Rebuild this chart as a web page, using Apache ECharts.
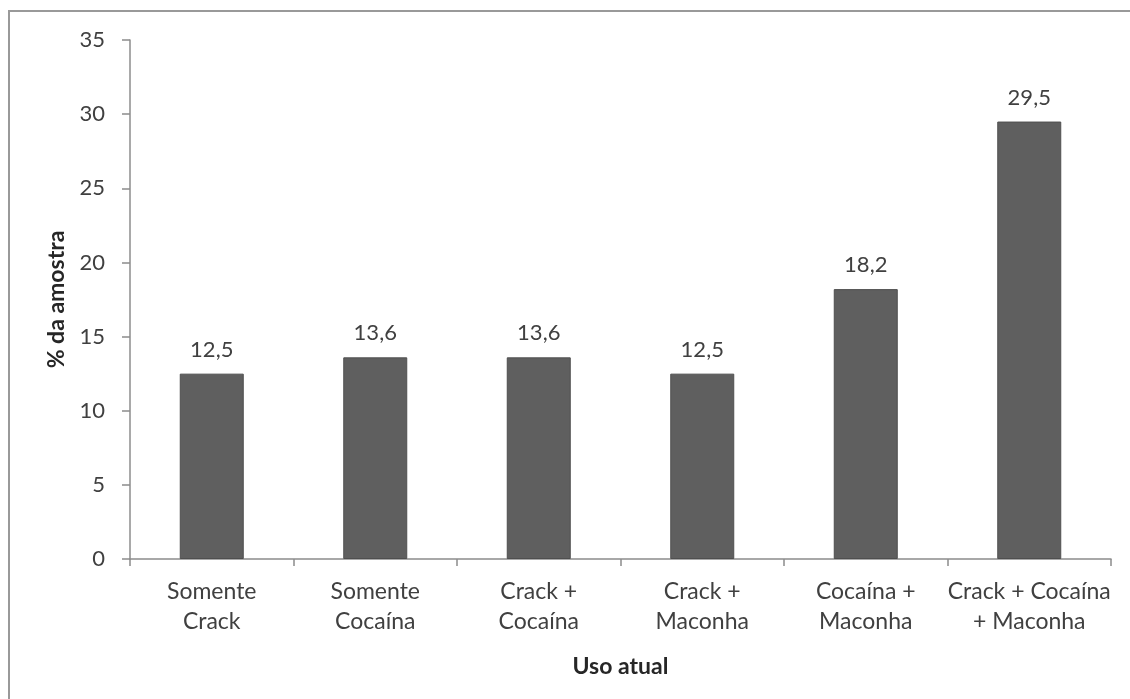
<!DOCTYPE html>
<html>
<head>
<meta charset="utf-8">
<script src="https://cdn.jsdelivr.net/npm/echarts@6/dist/echarts.min.js"></script>
<style>
  html, body { margin: 0; padding: 0; background: #fff; }
  #chart { width: 1130px; height: 699px; }
</style>
</head>
<body>
<div id="chart"></div>
<script>
// dados do gráfico
const categories = [
  'Somente\nCrack',
  'Somente\nCocaína',
  'Crack +\nCocaína',
  'Crack +\nMaconha',
  'Cocaína +\nMaconha',
  'Crack + Cocaína\n+ Maconha'
];
const values = [12.5, 13.6, 13.6, 12.5, 18.2, 29.5];
const yTicks = [0, 5, 10, 15, 20, 25, 30, 35];

const fontFamily = 'Lato, "Open Sans", sans-serif';
const textColor = '#404040';
const axisColor = '#8c8c8c';

const chart = echarts.init(document.getElementById('chart'));

const option = {
  animation: false,
  backgroundColor: '#ffffff',
  textStyle: { fontFamily: fontFamily },
  graphic: [{
    type: 'rect',
    shape: { x: 9, y: 11, width: 1200, height: 750 },
    style: { fill: 'none', stroke: '#999999', lineWidth: 2 }
  }],
  grid: {
    left: 130,
    right: 19,
    top: 40,
    bottom: 140
  },
  xAxis: {
    type: 'category',
    data: categories,
    name: 'Uso atual',
    nameLocation: 'middle',
    nameGap: 96,
    nameTextStyle: {
      fontSize: 23,
      fontWeight: 'bold',
      color: '#262626',
      fontFamily: fontFamily
    },
    axisLine: { lineStyle: { color: axisColor, width: 1.5 } },
    axisTick: {
      show: true,
      length: 7,
      alignWithLabel: false,
      lineStyle: { color: axisColor, width: 1.5 }
    },
    axisLabel: {
      interval: 0,
      margin: 18,
      fontSize: 23,
      lineHeight: 30,
      color: textColor,
      fontFamily: fontFamily
    }
  },
  yAxis: {
    type: 'value',
    min: 0,
    max: 35,
    interval: 5,
    name: '% da amostra',
    nameLocation: 'middle',
    nameGap: 62,
    nameTextStyle: {
      fontSize: 23,
      fontWeight: 'bold',
      color: '#262626',
      fontFamily: fontFamily
    },
    axisLine: { show: true, lineStyle: { color: axisColor, width: 1.5 } },
    axisTick: { show: true, length: 8, lineStyle: { color: axisColor, width: 1.5 } },
    splitLine: { show: false },
    axisLabel: {
      margin: 25,
      fontSize: 22,
      color: textColor,
      fontFamily: fontFamily,
      customValues: yTicks
    }
  },
  series: [{
    type: 'bar',
    data: values,
    barWidth: 64,
    itemStyle: {
      color: '#5f5f5f',
      borderColor: '#4f4f4f',
      borderWidth: 1
    },
    label: {
      show: true,
      position: 'top',
      distance: 13,
      fontSize: 22,
      color: textColor,
      fontFamily: fontFamily,
      formatter: p => p.value.toFixed(1).replace('.', ',')
    }
  }]
};

chart.setOption(option);
</script>
</body>
</html>
